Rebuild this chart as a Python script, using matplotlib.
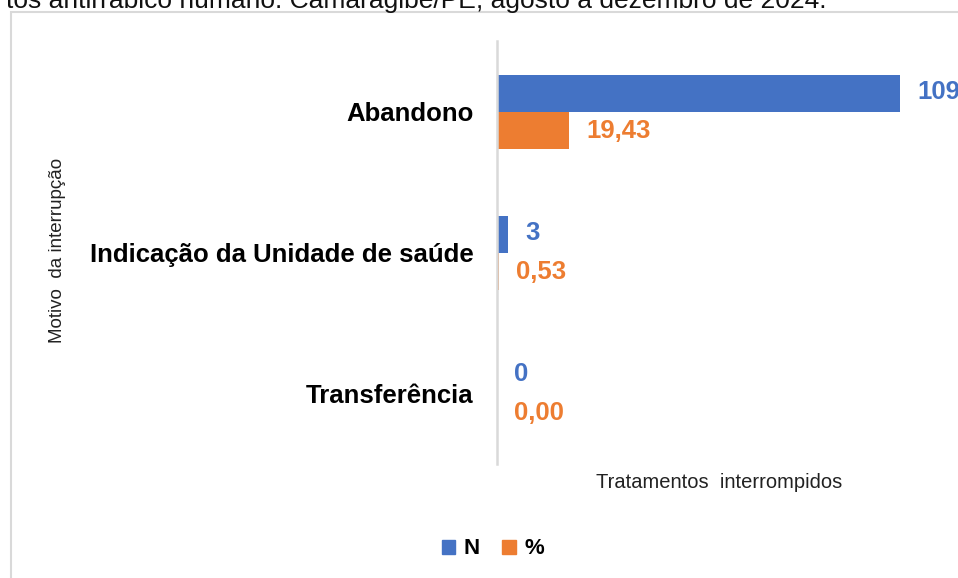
import matplotlib
matplotlib.use("Agg")
import matplotlib.pyplot as plt
from matplotlib.patches import Rectangle, Patch
import numpy as np

categories = ["Abandono", "Indicação da Unidade de saúde", "Transferência"]
n_values = [109, 3, 0]
pct_values = [19.43, 0.53, 0.00]
n_labels = ["109", "3", "0"]
pct_labels = ["19,43", "0,53", "0,00"]

BLUE = "#4472C4"
ORANGE = "#ED7D31"
GRID = "#D9D9D9"

plt.rcParams['font.family'] = ['Liberation Sans', 'DejaVu Sans']

W, H = 958, 578
fig = plt.figure(figsize=(W / 100, H / 100), dpi=100)

# axes area in pixels
ax_left, ax_right, ax_top, ax_bottom = 497, 958, 41, 464
ax = fig.add_axes([ax_left / W, 1 - ax_bottom / H, (ax_right - ax_left) / W, (ax_bottom - ax_top) / H])

y = np.arange(len(categories))
h = 37 / 141
ax.barh(y - h / 2, n_values, height=h, color=BLUE, label="N")
ax.barh(y + h / 2, pct_values, height=h, color=ORANGE, label="%")

ax.set_xlim(0, (ax_right - ax_left) / 3.70)
ax.set_ylim(len(categories) - 0.5, -0.5)

for yi, v, lab in zip(y, n_values, n_labels):
    ax.annotate(lab, (v, yi - h / 2), xytext=(12.5, 1), textcoords="offset points",
                ha="left", va="center", color=BLUE, fontsize=18.5, fontweight="bold",
                annotation_clip=False, clip_on=False)
for yi, v, lab in zip(y, pct_values, pct_labels):
    ax.annotate(lab, (v, yi + h / 2), xytext=(12.5, -1), textcoords="offset points",
                ha="left", va="center", color=ORANGE, fontsize=18.5, fontweight="bold",
                annotation_clip=False, clip_on=False)

ax.set_yticks(y)
ax.set_yticklabels(categories, fontsize=18.5, fontweight="bold")
ax.tick_params(axis="y", length=0, pad=17)
ax.set_xticks([])
for s in ["top", "right", "bottom"]:
    ax.spines[s].set_visible(False)
ax.spines["left"].set_color(GRID)
ax.spines["left"].set_linewidth(1.8)
ax.spines["left"].set_zorder(5)

# axis titles
fig.text(58 / W, 1 - 250 / H, "Motivo  da interrupção", rotation=90, ha="center", va="center",
         fontsize=13.5, color="#222222")
fig.text(719 / W, 1 - 482 / H, "Tratamentos  interrompidos", ha="center", va="center",
         fontsize=14.5, color="#222222")

# legend
handles = [Patch(color=BLUE, label="N"), Patch(color=ORANGE, label="%")]
leg = fig.legend(handles=handles, loc="center", bbox_to_anchor=(493 / W, 1 - 549 / H), ncol=2,
                 frameon=False, handlelength=0.6, handleheight=0.6, handletextpad=0.4,
                 columnspacing=1.0, prop={"size": 16, "weight": "bold"})

# chart border (partially visible)
fig.patches.append(Rectangle((11 / W, -0.2), 1.2, 1.2 - 12 / H, transform=fig.transFigure,
                             fill=False, edgecolor=GRID, linewidth=1.5))

# clipped caption at the top
fig.text(826 / W, 1 - 8 / H, "tos antirrábico humano. Camaragibe/PE, agosto a dezembro de 2024.",
         ha="right", va="baseline", fontsize=19, color="#111111")

fig.savefig("out.png", dpi=100)
